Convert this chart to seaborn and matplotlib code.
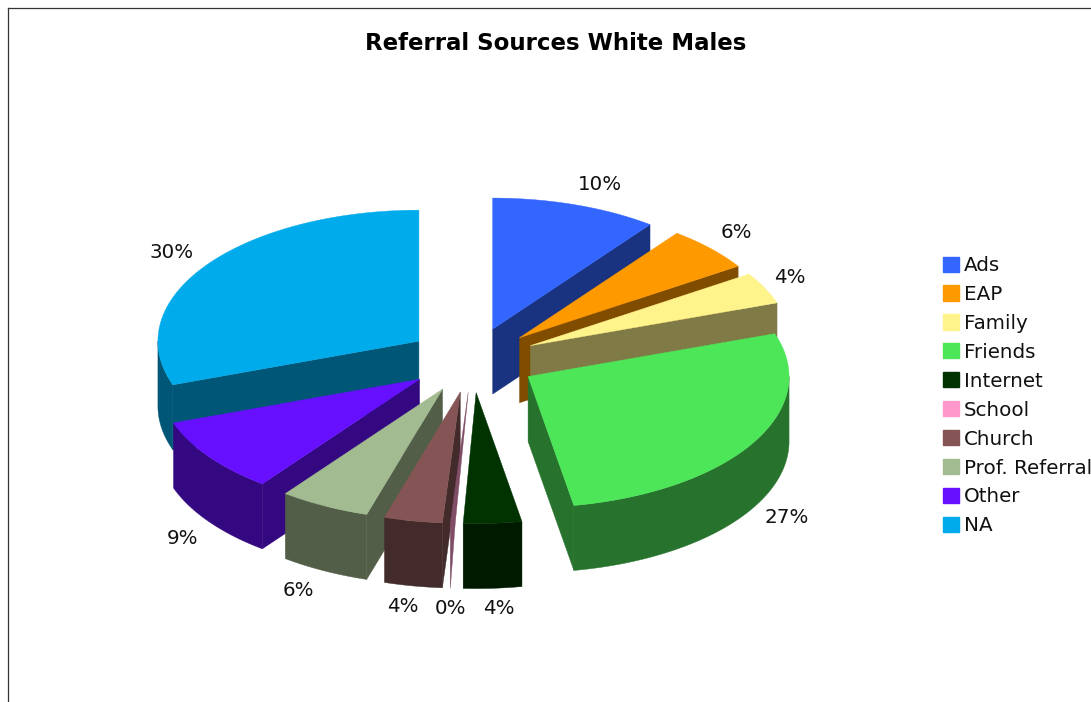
import numpy as np
import matplotlib
matplotlib.use("Agg")
import matplotlib.pyplot as plt
from matplotlib.patches import Polygon, Patch
import seaborn as sns

categories = ["Ads", "EAP", "Family", "Friends", "Internet", "School", "Church",
              "Prof. Referral", "Other", "NA"]
values = [10.3, 5.5, 3.9, 27.49, 3.6, 0.3, 3.6, 5.6, 9.3, 30.41]
hex_colors = ["#3366FF", "#FF9900", "#FFF38C", "#4DE659", "#003300", "#FF99CC",
              "#855555", "#A3BB90", "#6610FF", "#00ABEB"]
label_positions = [(600, 184), (736, 232), (790, 278), (787, 518), (499, 609),
                   (451, 609), (403, 607), (298, 591), (183, 539), (172, 252)]
title = "Referral Sources White Males"

CX, CY = 472, 360      # pie centre in pixels
RX, RY = 261, 131      # ellipse radii
EXPLODE = 65           # radial explosion
DEPTH = 65             # extrusion height
SHADE = 0.5
THIN = 0.01            # slices under this share are drawn as a sliver

sns.set_theme(style="white")
plt.rcParams["font.family"] = ["DejaVu Sans"]
palette = sns.color_palette(hex_colors)

fig = plt.figure(figsize=(10.91, 7.02), dpi=100, facecolor="white")
ax = fig.add_axes([8 / 1091, 0, (1091 - 8) / 1091, (702 - 8) / 702])
ax.set_xlim(8, 1091)
ax.set_ylim(702, 8)
ax.set_xticks([])
ax.set_yticks([])
sns.despine(ax=ax, top=False, left=False, right=True, bottom=True)
for s in ("top", "left"):
    ax.spines[s].set_color("#333333")
    ax.spines[s].set_linewidth(0.9)


def pt(theta, apex):
    return (apex[0] + RX * np.sin(theta), apex[1] - RY * np.cos(theta))


def face(pts, color, z):
    ax.add_patch(Polygon(pts, closed=True, facecolor=color, edgecolor=color,
                         linewidth=0.3, zorder=z))


total = np.sum(values)
shares = np.array(values) / total * 2 * np.pi
ends = np.cumsum(shares)
starts = ends - shares
mids = (starts + ends) / 2
order = np.argsort(-np.cos(mids))

for z, i in enumerate(order):
    a0, a1, m = starts[i], ends[i], mids[i]
    apex = (CX + EXPLODE * np.sin(m), CY - EXPLODE * np.cos(m) * RY / RX)
    color = palette[i]
    dark = tuple(c * SHADE for c in color)
    base = z * 10 + 2

    if values[i] / total < THIN:
        p0, p1 = pt(a0, apex), pt(a1, apex)
        tip = (min(p0[0], p1[0]), max(p0[1], p1[1]) + DEPTH)
        face([apex, p0, tip, p1], dark, base)
        continue

    # radial cut walls, when they face the viewer
    for ang, normal in ((a0, a0 - np.pi / 2), (a1, a1 + np.pi / 2)):
        if np.cos(normal) < 0:
            p = pt(ang, apex)
            face([apex, p, (p[0], p[1] + DEPTH), (apex[0], apex[1] + DEPTH)], dark, base)

    # outer rim wall on the front half of the ellipse
    lo, hi = max(a0, np.pi / 2), min(a1, 3 * np.pi / 2)
    if hi > lo:
        t = np.linspace(lo, hi, 80)
        upper = [pt(v, apex) for v in t]
        lower = [(x, y + DEPTH) for x, y in upper][::-1]
        face(upper + lower, dark, base + 1)

    # top face
    t = np.linspace(a0, a1, max(int(np.degrees(a1 - a0)), 3))
    face([apex] + [pt(v, apex) for v in t], color, base + 2)

for i, (x, y) in enumerate(label_positions):
    ax.text(x, y, f"{values[i]:.0f}%", ha="center", va="center", fontsize=14.3,
            color="#111111", zorder=500)

ax.text(556, 43, title, ha="center", va="center", fontsize=16.5,
        fontweight="bold", color="#000000")

handles = [Patch(facecolor=c, edgecolor=c) for c in palette]
ax.legend(handles, categories, loc="upper left", bbox_to_anchor=(943, 256),
          bbox_transform=ax.transData, frameon=False, fontsize=14.3, ncol=1,
          handlelength=0.8, handleheight=0.8, handletextpad=0.25,
          labelspacing=0.5, borderpad=0, borderaxespad=0, labelcolor="#111111")

fig.savefig("out.png", dpi=100, facecolor="white")
